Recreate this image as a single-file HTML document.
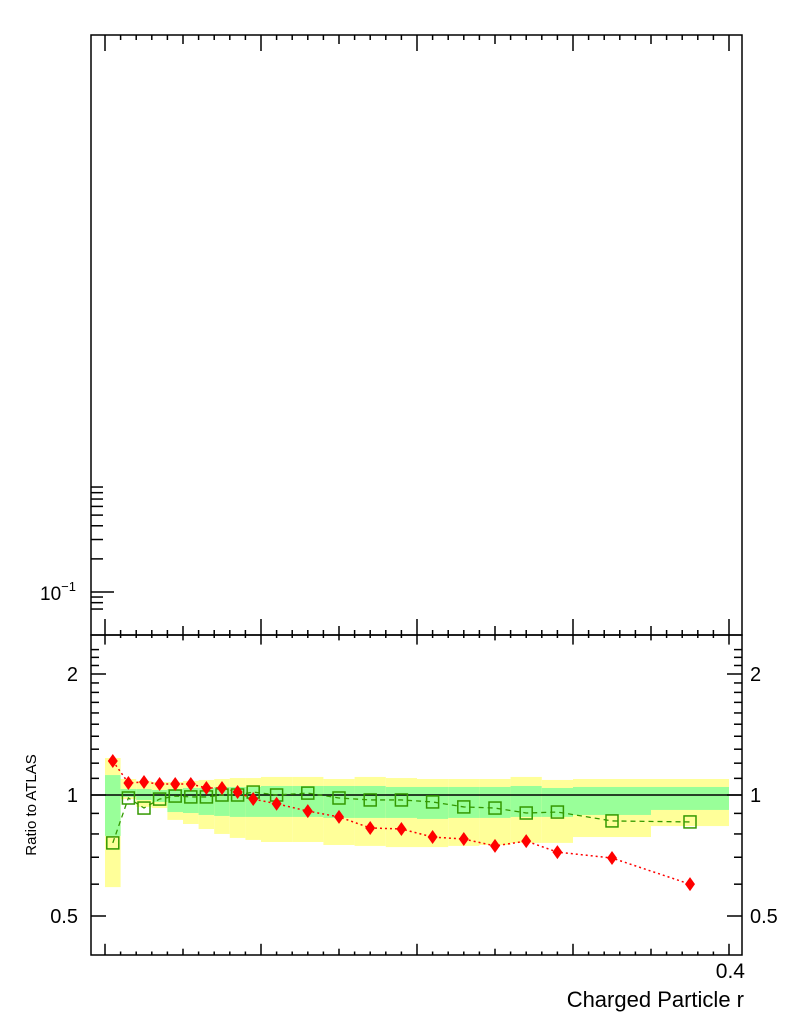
<!DOCTYPE html>
<html><head><meta charset="utf-8"><style>
body{margin:0;background:#fff}
svg text{font-family:"Liberation Sans",sans-serif;fill:#000}
</style></head><body>
<svg id="chart" width="786" height="1024" viewBox="0 0 786 1024" xmlns="http://www.w3.org/2000/svg">
<g id="bands"></g>
<line x1="91" y1="795" x2="742" y2="795" stroke="#000" stroke-width="1.5"/>
<g id="series"></g>
<g id="axes" stroke="#000" stroke-width="1.5" fill="none">
<rect x="91" y="35" width="651" height="600"/>
<rect x="91" y="635" width="651" height="320"/>
</g>
<text x="40" y="600" font-size="19">10<tspan font-size="13" dy="-9">−1</tspan></text>
<text transform="translate(36,805) rotate(-90)" text-anchor="middle" font-size="15">Ratio to ATLAS</text>
<text x="745" y="978" text-anchor="end" font-size="21">0.4</text>
<text x="744" y="1007" text-anchor="end" font-size="22">Charged Particle r</text>
</svg>
<script>
const binEdges=[0,0.01,0.02,0.03,0.04,0.05,0.06,0.07,0.08,0.09,0.10,0.12,0.14,0.16,0.18,0.20,0.22,0.24,0.26,0.28,0.30,0.35,0.40];
const redRatio=[1.215,1.071,1.077,1.065,1.065,1.065,1.041,1.041,1.017,0.977,0.951,0.912,0.882,0.828,0.823,0.786,0.777,0.747,0.768,0.721,0.697,0.600];
const greenRatio=[0.760,0.983,0.928,0.977,0.994,0.989,0.989,1.0,1.0,1.017,1.0,1.011,0.983,0.972,0.972,0.961,0.934,0.928,0.902,0.907,0.862,0.857];
const yellowHi=[1.236,1.096,1.084,1.077,1.077,1.084,1.090,1.096,1.102,1.102,1.109,1.109,1.096,1.109,1.102,1.096,1.096,1.096,1.109,1.090,1.096,1.096];
const greenHi=[1.121,1.035,1.035,1.029,1.035,1.041,1.041,1.047,1.047,1.047,1.053,1.053,1.053,1.053,1.047,1.047,1.047,1.047,1.053,1.041,1.047,1.047];
const greenLo=[0.791,0.989,0.972,0.961,0.907,0.902,0.892,0.887,0.882,0.882,0.882,0.882,0.877,0.877,0.877,0.872,0.877,0.877,0.882,0.882,0.892,0.918];
const yellowLo=[0.590,0.977,0.934,0.928,0.867,0.847,0.823,0.800,0.782,0.773,0.764,0.764,0.751,0.747,0.742,0.742,0.747,0.751,0.760,0.760,0.786,0.837];
const ratioTickLabels=["0.5","1","2"];
const ratioTickValues=[0.5,1,2];
const topMinorValues=[0.07,0.08,0.09,0.2,0.3,0.4,0.5,0.6,0.7,0.8,0.9];

const NS="http://www.w3.org/2000/svg";
const X=v=>105+v*1560;
const Y=v=>795-121*Math.log2(v);
const YT=v=>592-110*Math.log10(v/0.1);
function mk(tag,attrs,parent){const e=document.createElementNS(NS,tag);for(const k in attrs)e.setAttribute(k,attrs[k]);parent.appendChild(e);return e;}
const bands=document.getElementById('bands'),series=document.getElementById('series'),axes=document.getElementById('axes');
const n=redRatio.length;
for(let i=0;i<n;i++){
  const x0=X(binEdges[i]),x1=X(binEdges[i+1]);
  const y=mk('rect',{x:x0,y:Y(yellowHi[i]),width:x1-x0,height:Y(yellowLo[i])-Y(yellowHi[i]),fill:'#ffff99'},bands);
  
  
  const g=mk('rect',{x:x0,y:Y(greenHi[i]),width:x1-x0,height:Y(greenLo[i])-Y(greenHi[i]),fill:'#99ff99'},bands);
  
  
}
const cx=i=>X((binEdges[i]+binEdges[i+1])/2);
const gl=mk('polyline',{points:greenRatio.map((v,i)=>cx(i)+','+Y(v)).join(' '),fill:'none',stroke:'#339900','stroke-width':1.3,'stroke-dasharray':'5,4'},series);


const rl=mk('polyline',{points:redRatio.map((v,i)=>cx(i)+','+Y(v)).join(' '),fill:'none',stroke:'#ff0000','stroke-width':1.5,'stroke-dasharray':'2,3'},series);


for(let i=0;i<n;i++){
  const x=cx(i),y=Y(greenRatio[i]);
  const s=mk('rect',{x:x-6,y:y-6,width:12,height:12,fill:'none',stroke:'#339900','stroke-width':1.5},series);
  
  
}
for(let i=0;i<n;i++){
  const x=cx(i),y=Y(redRatio[i]);
  const d=mk('polygon',{points:`${x},${y-7} ${x+5},${y} ${x},${y+7} ${x-5},${y}`,fill:'#ff0000'},series);
  
  
}
// x ticks
for(let k=0;k<=40;k++){
  const v=k/100,x=X(v);
  const L=k%10===0?16:(k%5===0?9:5);
  mk('line',{x1:x,y1:35,x2:x,y2:35+L},axes);
  mk('line',{x1:x,y1:635,x2:x,y2:635-L},axes);
  mk('line',{x1:x,y1:635,x2:x,y2:635+L*0.6},axes);
  mk('line',{x1:x,y1:955,x2:x,y2:955-L*0.7},axes);
}
// top y ticks
topMinorValues.forEach(v=>{mk('line',{x1:91,y1:YT(v),x2:103,y2:YT(v)},axes);});
mk('line',{x1:91,y1:YT(0.1),x2:114,y2:YT(0.1)},axes);
// ratio y ticks
for(let v=0.45;v<=2.35;v+=0.1){
  const vv=Math.round(v*10)/10; if(vv<0.45)continue;
  const major=ratioTickValues.includes(vv);
  const L=major?15:8;
  if(Y(vv)<636||Y(vv)>954)continue;
  mk('line',{x1:91,y1:Y(vv),x2:91+L,y2:Y(vv)},axes);
  mk('line',{x1:742,y1:Y(vv),x2:742-L,y2:Y(vv)},axes);
}
const svg=document.getElementById('chart');
ratioTickValues.forEach((v,i)=>{
  const t=mk('text',{x:78,y:Y(v)+7,'text-anchor':'end','font-size':20},svg);t.textContent=ratioTickLabels[i];
  
  
  const r=mk('text',{x:750,y:Y(v)+7,'font-size':20},svg);r.textContent=ratioTickLabels[i];
  
  
});
</script>
</body></html>
